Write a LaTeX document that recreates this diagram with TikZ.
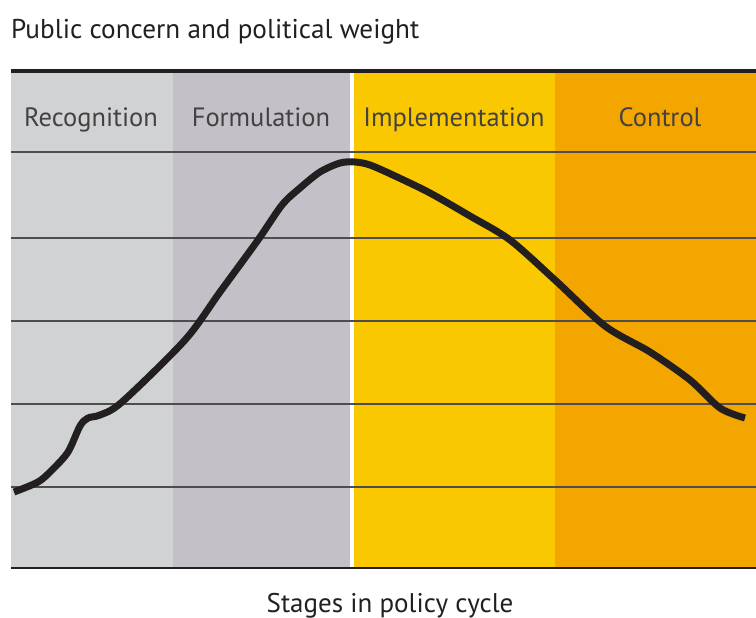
\documentclass[tikz,border=0pt]{standalone}
\usepackage{fontspec}
\setmainfont{PT Sans}
\usepackage{tikz}
\usetikzlibrary{positioning,calc}

\definecolor{recogcol}{HTML}{D1D2D4}
\definecolor{formcol}{HTML}{C3C0C7}
\definecolor{implcol}{HTML}{FAC800}
\definecolor{ctrlcol}{HTML}{F4A600}
\definecolor{inkcol}{HTML}{231F20}

\tikzset{
  stagelabel/.style={anchor=base,text=inkcol!85,font=\fontsize{26.5}{30}\selectfont,inner sep=0pt},
  gridline/.style={draw=inkcol!80,line width=1.4pt},
  curveline/.style={draw=inkcol,line width=7pt,line join=round}
}

\begin{document}
\begin{tikzpicture}[x=1pt,y=-1pt]
\useasboundingbox (0,0) rectangle (756,618);
% stage bands
\fill[recogcol] (11,73) rectangle (173,568);
\fill[formcol] (173,73) rectangle (350,568);
\fill[white] (350,73) rectangle (354,568);
\fill[implcol] (354,73) rectangle (555,568);
\fill[ctrlcol] (555,73) rectangle (756,568);
% horizontal levels
\foreach \y in {152,238,321,404,487}
  \draw[gridline] (11,\y) -- (756,\y);
\draw[inkcol,line width=4pt] (11,71) -- (756,71);
\draw[inkcol,line width=2.5pt] (11,568) -- (756,568);
% stage names
\node[stagelabel] (recog) at (91,126) {Recognition};
\node[stagelabel] (formul) at (261,126) {Formulation};
\node[stagelabel] (implem) at (454,126) {Implementation};
\node[stagelabel] (control) at (660,126) {Control};
% concern curve
\draw[curveline] plot[smooth,tension=0.5] coordinates {
  (14,492) (38,482) (52,470) (68,452) (80,426) (88,418) (100,415) (122,402)
  (185,340) (220,292) (258,240) (282,205) (300,188) (320,172)
  (340,163) (355,162) (370,165) (395,176) (430,193) (470,216) (510,240)
  (555,280) (605,326) (650,352) (690,380) (720,408) (745,418)};
% axis titles
\node[anchor=base west,inner sep=0pt,text=inkcol,font=\fontsize{27.2}{32}\selectfont] (title) at (11,39) {Public concern and political weight};
\node[anchor=base,inner sep=0pt,text=inkcol,font=\fontsize{27}{32}\selectfont] (xlabel) at (390,612) {Stages in policy cycle};
\end{tikzpicture}
\end{document}
